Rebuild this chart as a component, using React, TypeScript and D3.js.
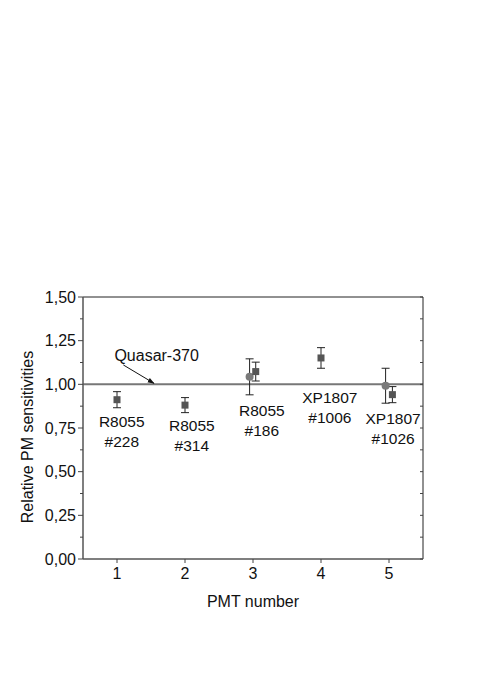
import React from "react";
import * as d3 from "d3";

const xTicks = [1, 2, 3, 4, 5];
const yTicks = [0, 0.25, 0.5, 0.75, 1.0, 1.25, 1.5];
const yMinor = [0.125, 0.375, 0.625, 0.875, 1.125, 1.375];

// squares: [x, value, error]
const squareX = [1, 2, 3.04, 4, 5.05];
const squareY = [0.912, 0.881, 1.073, 1.151, 0.941];
const squareErr = [0.046, 0.043, 0.054, 0.059, 0.046];

// circles
const circleX = [2.95, 4.95];
const circleY = [1.043, 0.992];
const circleErr = [0.103, 0.1];

const labelLine1 = ["R8055", "R8055", "R8055", "XP1807", "XP1807"];
const labelLine2 = ["#228", "#314", "#186", "#1006", "#1026"];
const labelX = [1.07, 2.1, 3.13, 4.13, 5.06];
const labelY = [0.79, 0.767, 0.853, 0.926, 0.806];

const refValue = 1.0;
const refLabel = "Quasar-370";
const refLabelPos = [1.583, 1.168];
const arrowFrom = [1.093, 1.111];
const arrowTo = [1.544, 1.006];

const W = 491;
const H = 694;
const L = 83, R = 423, T = 297, B = 559;

export default function App() {
  const x = d3.scaleLinear().domain([0.5, 5.5]).range([L, R]);
  const y = d3.scaleLinear().domain([0, 1.5]).range([B, T]);
  const fmt = (v: number) => d3.format(".2f")(v).replace(".", ",");
  const font = "'Liberation Sans', Arial, sans-serif";
  const axisCol = "#222";
  const cap = 4;

  const errBar = (cx: number, v: number, e: number, key: string) => (
    <g key={key} stroke="#222" strokeWidth={1}>
      <line x1={x(cx)} x2={x(cx)} y1={y(v + e)} y2={y(v - e)} />
      <line x1={x(cx) - cap} x2={x(cx) + cap} y1={y(v + e)} y2={y(v + e)} />
      <line x1={x(cx) - cap} x2={x(cx) + cap} y1={y(v - e)} y2={y(v - e)} />
    </g>
  );

  return (
    <svg
      width={W}
      height={H}
      style={{ position: "absolute", left: 0, top: 0, background: "#fff" }}
      fontFamily={font}
    >
      <defs>
        <marker id="arr" viewBox="0 0 10 10" refX="9" refY="5" markerWidth="7" markerHeight="7" orient="auto">
          <path d="M0,1.5 L10,5 L0,8.5 z" fill="#111" />
        </marker>
      </defs>
      {/* reference line */}
      <line x1={L} x2={R} y1={y(refValue)} y2={y(refValue)} stroke="#777" strokeWidth={2} />

      {/* frame */}
      <line x1={L} x2={R} y1={T} y2={T} stroke={axisCol} strokeWidth={1} />
      <line x1={R} x2={R} y1={T} y2={B} stroke={axisCol} strokeWidth={1} />
      <line x1={L} x2={L} y1={T} y2={B} stroke="#555" strokeWidth={1.5} />
      <line x1={L} x2={R} y1={B} y2={B} stroke="#555" strokeWidth={1.5} />

      {/* y ticks */}
      {yTicks.map((t) => (
        <g key={"yt" + t}>
          <line x1={L - 5} x2={L} y1={y(t)} y2={y(t)} stroke="#444" />
          <line x1={R - 3} x2={R} y1={y(t)} y2={y(t)} stroke="#444" />
          <text x={L - 7} y={y(t)} dy="0.35em" textAnchor="end" fontSize={16} fill="#111">
            {fmt(t)}
          </text>
        </g>
      ))}
      {yMinor.map((t) => (
        <g key={"ym" + t}>
          <line x1={L - 3} x2={L} y1={y(t)} y2={y(t)} stroke="#444" />
          <line x1={R - 3} x2={R} y1={y(t)} y2={y(t)} stroke="#444" />
        </g>
      ))}

      {/* x ticks */}
      {xTicks.map((t) => (
        <g key={"xt" + t}>
          <line x1={x(t)} x2={x(t)} y1={B} y2={B + 4} stroke="#444" />
          <text x={x(t)} y={B + 20} textAnchor="middle" fontSize={16} fill="#111">
            {t}
          </text>
        </g>
      ))}

      <text x={253} y={607} textAnchor="middle" fontSize={16} fill="#111">PMT number</text>
      <text
        transform={`translate(33, 437) rotate(-90)`}
        textAnchor="middle"
        fontSize={16}
        fill="#111"
      >
        Relative PM sensitivities
      </text>

      {/* error bars */}
      {circleX.map((cx, i) => errBar(cx, circleY[i], circleErr[i], "ce" + i))}
      {squareX.map((cx, i) => errBar(cx, squareY[i], squareErr[i], "se" + i))}

      {/* markers */}
      {circleX.map((cx, i) => (
        <circle key={"c" + i} cx={x(cx)} cy={y(circleY[i])} r={4} fill="#7a7a7a" />
      ))}
      {squareX.map((cx, i) => (
        <rect key={"s" + i} x={x(cx) - 3.5} y={y(squareY[i]) - 3.5} width={7} height={7} fill="#555" />
      ))}

      {/* labels */}
      {labelLine1.map((l, i) => (
        <g key={"lb" + i} fontSize={15.5} fill="#111" textAnchor="middle">
          <text x={x(labelX[i])} y={y(labelY[i])} dy="0.36em">{l}</text>
          <text x={x(labelX[i])} y={y(labelY[i]) + 20.5} dy="0.36em">{labelLine2[i]}</text>
        </g>
      ))}

      <text x={x(refLabelPos[0])} y={y(refLabelPos[1])} dy="0.36em" textAnchor="middle" fontSize={16} fill="#111">
        {refLabel}
      </text>
      <line
        x1={x(arrowFrom[0])}
        y1={y(arrowFrom[1])}
        x2={x(arrowTo[0])}
        y2={y(arrowTo[1])}
        stroke="#111"
        strokeWidth={1}
        markerEnd="url(#arr)"
      />
    </svg>
  );
}
